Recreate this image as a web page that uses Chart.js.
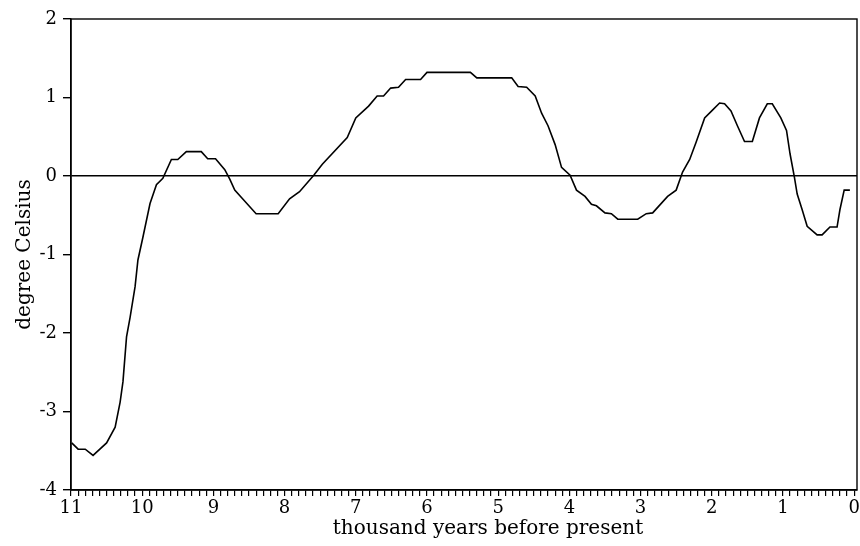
<!DOCTYPE html>
<html>
<head>
<meta charset="utf-8">
<script src="https://cdn.jsdelivr.net/npm/chart.js@4/dist/chart.umd.min.js"></script>
<style>
    html, body { margin: 0; padding: 0; background: #fff; }
    #wrap { width: 860px; height: 546px; }
</style>
</head>
<body>
<div id="wrap"><canvas id="chart"></canvas></div>
<script>
// thousand years before present
const ages = [
    10.99, 10.90, 10.80, 10.69, 10.50, 10.38, 10.31, 10.27, 10.22, 10.17,
    10.10, 10.06, 9.99, 9.89, 9.80, 9.71, 9.59, 9.50, 9.38, 9.17,
    9.08, 8.97, 8.84, 8.77, 8.70, 8.59, 8.40, 8.26, 8.09, 7.93,
    7.79, 7.59, 7.47, 7.12, 7.00, 6.82, 6.70, 6.61, 6.51, 6.40,
    6.30, 6.09, 6.00, 5.39, 5.30, 4.81, 4.72, 4.60, 4.48, 4.39,
    4.30, 4.20, 4.11, 3.99, 3.90, 3.78, 3.69, 3.62, 3.50, 3.41,
    3.32, 3.04, 2.92, 2.83, 2.62, 2.50, 2.41, 2.31, 2.22, 2.10,
    1.99, 1.89, 1.82, 1.73, 1.64, 1.54, 1.43, 1.33, 1.22, 1.15,
    1.03, 0.95, 0.90, 0.84, 0.80, 0.73, 0.66, 0.52, 0.45, 0.34,
    0.24, 0.20, 0.14, 0.06
];
// degree Celsius
const temps = [
    -3.40, -3.48, -3.48, -3.56, -3.40, -3.20, -2.88, -2.62, -2.05, -1.80,
    -1.41, -1.07, -0.78, -0.35, -0.11, -0.03, 0.21, 0.21, 0.31, 0.31,
    0.22, 0.22, 0.08, -0.04, -0.18, -0.29, -0.48, -0.48, -0.48, -0.29,
    -0.20, 0.01, 0.15, 0.49, 0.74, 0.89, 1.02, 1.02, 1.12, 1.13,
    1.23, 1.23, 1.32, 1.32, 1.25, 1.25, 1.14, 1.13, 1.02, 0.80,
    0.64, 0.40, 0.11, 0.01, -0.18, -0.26, -0.36, -0.38, -0.47, -0.48,
    -0.55, -0.55, -0.48, -0.47, -0.26, -0.18, 0.05, 0.21, 0.43, 0.74,
    0.84, 0.93, 0.92, 0.83, 0.64, 0.44, 0.44, 0.74, 0.92, 0.92,
    0.74, 0.58, 0.28, -0.01, -0.23, -0.43, -0.64, -0.75, -0.75, -0.65,
    -0.65, -0.43, -0.18, -0.18
];
const xMin = -0.04, xMax = 11, xTickStart = 0, xMinorStep = 0.1;
const yMin = -4, yMax = 2, yStep = 1;
const xTitle = 'thousand years before present';
const yTitle = 'degree Celsius';

Chart.defaults.font.family = '"DejaVu Serif", "Liberation Serif", serif';
Chart.defaults.color = '#000';

// box round the plot area and the x title, placed like the original
const framePlugin = {
    id: 'frame',
    afterDraw(chart) {
        const { ctx, chartArea: a } = chart;
        ctx.save();
        ctx.strokeStyle = '#000';
        ctx.lineWidth = 1.4;
        ctx.strokeRect(a.left, a.top, a.right - a.left, a.bottom - a.top);
        ctx.font = '20px "DejaVu Serif", serif';
        ctx.fillStyle = '#000';
        ctx.textAlign = 'center';
        ctx.textBaseline = 'middle';
        ctx.fillText(xTitle, 488, 529);
        ctx.restore();
    }
};

new Chart(document.getElementById('chart'), {
    type: 'line',
    data: {
        datasets: [{
            data: ages.map((a, i) => ({ x: a, y: temps[i] })),
            borderColor: '#000',
            borderWidth: 1.6,
            pointRadius: 0,
            tension: 0,
            fill: false
        }]
    },
    options: {
        responsive: true,
        maintainAspectRatio: false,
        animation: false,
        layout: { padding: { top: 19, right: 3, left: 0, bottom: 0 } },
        plugins: {
            legend: { display: false },
            tooltip: { enabled: false }
        },
        scales: {
            x: {
                type: 'linear',
                reverse: true,
                min: xMin,
                max: xMax,
                afterBuildTicks(scale) {
                    const n = Math.round((xMax - xTickStart) / xMinorStep);
                    const t = [];
                    for (let i = 0; i <= n; i++) t.push({ value: xTickStart + i * xMinorStep });
                    scale.ticks = t;
                },
                afterFit(scale) { scale.height = 56; },
                ticks: {
                    autoSkip: false,
                    maxRotation: 0,
                    minRotation: 0,
                    padding: 2,
                    font: { size: 18 },
                    callback: v => Math.abs(v - Math.round(v)) < 1e-6 ? String(Math.round(v)) : ''
                },
                grid: {
                    drawOnChartArea: false,
                    drawTicks: true,
                    tickLength: 6,
                    tickColor: '#000',
                    lineWidth: 1.2
                },
                border: { display: true, color: '#000', width: 1.4 },
                title: { display: false }
            },
            y: {
                min: yMin,
                max: yMax,
                ticks: { stepSize: yStep, padding: 6, font: { size: 18 } },
                afterFit(scale) { scale.width = 71; },
                grid: {
                    drawOnChartArea: true,
                    color: c => c.tick && c.tick.value === 0 ? '#000' : 'rgba(0,0,0,0)',
                    tickColor: '#000',
                    tickLength: 8,
                    lineWidth: 1.4
                },
                border: { display: true, color: '#000', width: 1.4 },
                title: {
                    display: true,
                    text: yTitle,
                    font: { size: 20 },
                    padding: { top: 13, bottom: 0 }
                }
            }
        }
    },
    plugins: [framePlugin]
});
</script>
</body>
</html>
